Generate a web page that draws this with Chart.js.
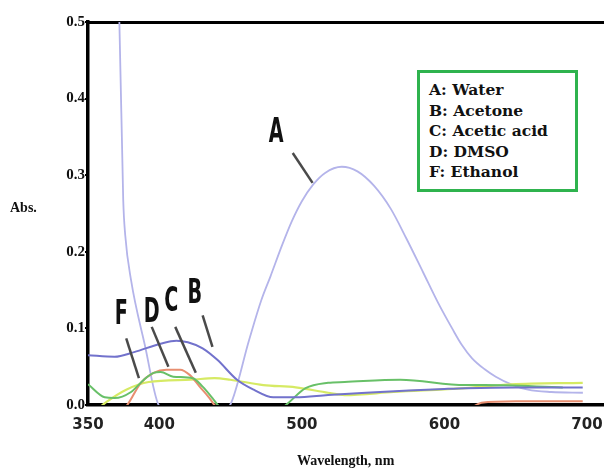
<!DOCTYPE html>
<html>
<head>
<meta charset="utf-8">
<script src="https://cdn.jsdelivr.net/npm/chart.js@4.4.1/dist/chart.umd.min.js"></script>
<style>
  body { margin: 0; background: #fff; }
  #wrap { position: relative; width: 614px; height: 470px; }
  #key {
    position: absolute; left: 417px; top: 70px; width: 161px; height: 122px;
    border: 3px solid #2fb34e; background: #fff; box-sizing: border-box;
    font: bold 15.5px "DejaVu Serif", serif; color: #111;
    line-height: 20.5px; padding: 7px 0 0 9px;
  }
</style>
</head>
<body>
<div id="wrap">
  <canvas id="myChart" width="614" height="470"></canvas>
  <div id="key">
    A: Water<br>B: Acetone<br>C: Acetic acid<br>D: DMSO<br>F: Ethanol
  </div>
</div>
<script>
// wavelength (nm) / absorbance pairs for each solvent
var waterWl = [371.3, 372.0, 374.7, 376.1, 380.2, 389.9, 399.5, 424, 449.7, 463, 471.6, 478, 486, 493, 500, 508, 516.3, 528.0, 539.0, 550.7, 562.4, 573.4, 585.1, 595.4, 605.7, 612, 619.4, 628, 636, 646.9, 658.6, 675, 697.1];
var waterAbs = [0.52, 0.50, 0.268, 0.222, 0.163, 0.078, 0.0, -0.03, 0.0, 0.085, 0.137, 0.168, 0.208, 0.240, 0.266, 0.288, 0.303, 0.311, 0.305, 0.286, 0.256, 0.217, 0.173, 0.134, 0.099, 0.079, 0.061, 0.047, 0.037, 0.027, 0.020, 0.017, 0.016];

var acetoneWl = [350, 368.6, 382.3, 400.9, 412, 420, 430.4, 440.7, 454.5, 466.2, 479.9, 495.7, 518.4, 545, 575, 600, 615, 650, 697];
var acetoneAbs = [0.065, 0.063, 0.069, 0.080, 0.084, 0.082, 0.074, 0.059, 0.033, 0.020, 0.010, 0.010, 0.013, 0.016, 0.019, 0.021, 0.022, 0.023, 0.023];

var aceticWl = [350, 361.7, 368.6, 380.2, 389.2, 396, 400.9, 409.8, 423.5, 430.4, 437.3, 441, 464, 488.8, 502.6, 518.4, 530, 569, 614.6, 628, 683];
var aceticAbs = [0.027, 0.010, 0.009, 0.017, 0.033, 0.042, 0.043, 0.037, 0.035, 0.024, 0.009, 0.0, -0.03, 0.0, 0.022, 0.029, 0.030, 0.033, 0.026, 0.026, 0.023];

var dmsoWl = [372, 377.5, 387.1, 396, 405, 414.6, 421.5, 428.3, 435.2, 438.7, 445, 530, 618, 626, 650, 697];
var dmsoAbs = [-0.01, 0.0, 0.029, 0.042, 0.046, 0.046, 0.039, 0.024, 0.009, 0.0, -0.01, -0.03, -0.004, 0.003, 0.005, 0.005];

var ethanolWl = [357, 363, 376.8, 392.6, 422.2, 438.7, 449.7, 473, 495.7, 518.4, 530, 564.4, 614.6, 647, 697];
var ethanolAbs = [-0.005, 0.004, 0.020, 0.030, 0.033, 0.035, 0.033, 0.026, 0.023, 0.016, 0.013, 0.017, 0.022, 0.027, 0.029];

var xTicks = [350, 400, 500, 600, 700];

// letter tags with their leader lines, in wavelength / absorbance units
var tags = [
    { text: 'A', at: [482, 0.355], from: [493.6, 0.329], to: [507.5, 0.290] },
    { text: 'F', at: [373.4, 0.117], from: [376.8, 0.087], to: [385.7, 0.035] },
    { text: 'D', at: [394.7, 0.120], from: [394.7, 0.102], to: [406.4, 0.050] },
    { text: 'C', at: [408.4, 0.134], from: [411.2, 0.102], to: [425.6, 0.042] },
    { text: 'B', at: [424.9, 0.144], from: [430.4, 0.117], to: [437.3, 0.076] }
];

function pairs(xs, ys) {
    return xs.map(function (x, i) { return { x: x, y: ys[i] }; });
}

function series(label, xs, ys, color, width) {
    return {
        label: label,
        data: pairs(xs, ys),
        borderColor: color,
        borderWidth: width,
        pointRadius: 0,
        fill: false,
        cubicInterpolationMode: 'monotone'
    };
}

var tagPlugin = {
    id: 'tags',
    afterDatasetsDraw: function (chart) {
        var ctx = chart.ctx, xs = chart.scales.x, ys = chart.scales.y;
        ctx.save();
        ctx.strokeStyle = '#4a4a4a';
        ctx.lineWidth = 2.5;
        ctx.fillStyle = '#111';
        ctx.textAlign = 'center';
        ctx.textBaseline = 'middle';
        tags.forEach(function (t) {
            ctx.beginPath();
            ctx.moveTo(xs.getPixelForValue(t.from[0]), ys.getPixelForValue(t.from[1]));
            ctx.lineTo(xs.getPixelForValue(t.to[0]), ys.getPixelForValue(t.to[1]));
            ctx.stroke();
            // tall narrow lettering
            ctx.save();
            ctx.translate(xs.getPixelForValue(t.at[0]), ys.getPixelForValue(t.at[1]));
            ctx.scale(0.58, 1);
            ctx.font = "bold 33px 'DejaVu Sans', sans-serif";
            ctx.fillText(t.text, 0, 0);
            ctx.restore();
        });
        // y axis caption, written flat beside the ticks
        ctx.font = "bold 14px 'Liberation Serif', serif";
        ctx.textAlign = 'left';
        ctx.fillText('Abs.', chart.chartArea.left - 78, ys.getPixelForValue(0.257));
        ctx.restore();
    }
};

var ctx = document.getElementById('myChart').getContext('2d');
var chart = new Chart(ctx, {
    type: 'line',
    data: {
        datasets: [
            series('B: Acetone', acetoneWl, acetoneAbs, 'rgb(114,114,204)', 2),
            series('C: Acetic acid', aceticWl, aceticAbs, 'rgb(104,192,104)', 2),
            series('D: DMSO', dmsoWl, dmsoAbs, 'rgb(232,142,112)', 2),
            series('F: Ethanol', ethanolWl, ethanolAbs, 'rgb(214,234,100)', 2.2),
            series('A: Water', waterWl, waterAbs, 'rgb(180,180,234)', 1.8)
        ]
    },
    plugins: [tagPlugin],
    options: {
        responsive: false,
        animation: false,
        layout: { padding: { top: 22, left: 0, right: 0, bottom: 0 } },
        plugins: {
            legend: { display: false },
            tooltip: { enabled: false }
        },
        scales: {
            x: {
                type: 'linear',
                min: 350,
                max: 711.5,
                afterBuildTicks: function (s) { s.ticks = xTicks.map(function (v) { return { value: v }; }); },
                afterFit: function (s) { s.height = 65; },
                grid: { drawOnChartArea: false, drawTicks: false },
                border: { color: '#000', width: 3.5 },
                ticks: {
                    padding: 11,
                    autoSkip: false,
                    maxRotation: 0,
                    color: '#222',
                    font: { family: 'DejaVu Sans', weight: 'bold', size: 15 },
                    callback: function (v) { return String(v); }
                },
                title: {
                    display: true,
                    text: 'Wavelength, nm',
                    color: '#111',
                    font: { family: 'Liberation Serif', weight: 'bold', size: 14 },
                    padding: { top: 0, bottom: 0 }
                }
            },
            x2: {
                type: 'linear',
                position: 'top',
                min: 350,
                max: 711.5,
                afterFit: function (s) { s.height = 0; },
                ticks: { display: false },
                grid: { drawOnChartArea: false, drawTicks: false },
                border: { color: '#000', width: 3 }
            },
            y: {
                min: 0,
                max: 0.5,
                afterFit: function (s) { s.width = 88; },
                grid: { drawOnChartArea: false, tickLength: 3, color: '#000', lineWidth: 2 },
                border: { color: '#000', width: 3.5 },
                ticks: {
                    stepSize: 0.1,
                    padding: 0,
                    color: '#111',
                    font: { family: 'Liberation Serif', weight: 'bold', size: 15 },
                    callback: function (v) { return v.toFixed(1); }
                }
            }
        }
    }
});
</script>
</body>
</html>
